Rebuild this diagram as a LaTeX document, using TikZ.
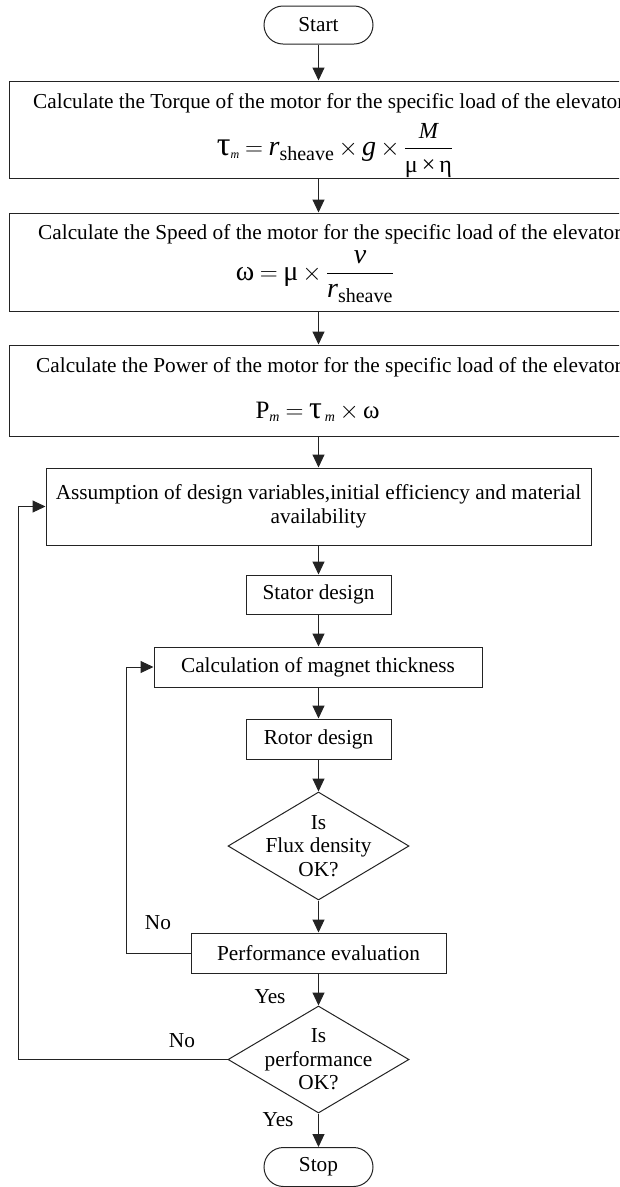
\documentclass[tikz,border=0pt]{standalone}
\usepackage{amsmath}
\usepackage{fontspec}
\setmainfont{Liberation Serif}
\usetikzlibrary{shapes.geometric,shapes.misc,arrows.meta}
\definecolor{lc}{RGB}{35,35,35}
\DeclareMathSizes{28}{28}{20}{15}
\DeclareMathSizes{25}{25}{18}{13}
\newcommand\sz[2]{\text{\fontsize{#1}{#1}\selectfont #2}}
\begin{document}
\begin{tikzpicture}[x=1pt,y=-1pt,
  txt/.style={font=\fontsize{21.3}{23.5}\selectfont, inner sep=0pt, text=black},
  fml/.style={font=\fontsize{28}{32}\selectfont, inner sep=0pt, anchor=base},
  box/.style={draw=lc, line width=1pt, rectangle, inner sep=0pt, txt, align=center},
  term/.style={draw=lc, line width=1pt, rounded rectangle, minimum width=109pt, inner sep=0pt, txt},
  dec/.style={draw=lc, line width=1pt, diamond, inner sep=0pt, minimum width=181pt},
  arr/.style={draw=lc, line width=1pt, -{Triangle[length=13pt,width=12pt]}},
  ln/.style={draw=lc, line width=1pt}]
\useasboundingbox (0,0) rectangle (619,1187);
\clip (0,0) rectangle (619,1187);
\medmuskip=3mu plus 1mu minus 1mu
\thickmuskip=4mu plus 2mu

% terminals
\node[term, minimum height=38pt] (start) at (318.5,25) {Start};
\node[term, minimum height=39pt] (stop) at (318.5,1167) {Stop};

% formula boxes
\node[box, minimum width=641pt, minimum height=97pt] (b1) at (329.5,129.5) {};
\node[txt, anchor=west] (t1) at (33,103) {Calculate the Torque of the motor for the specific load of the elevator};
\node[fml] (f1) at (335,155) {$\sz{34}{τ}_{\sz{12}{\itshape m}} = \text{\itshape r}_{\sz{20}{sheave}} \times \text{\itshape g} \times \displaystyle\frac{\sz{23}{\itshape M}}{\sz{24}{μ\,×\,η}}$};

\node[box, minimum width=641pt, minimum height=98pt] (b2) at (329.5,262) {};
\node[txt, anchor=west] (t2) at (38,234) {Calculate the Speed of the motor for the specific load of the elevator};
\node[fml] (f2) at (315,280) {$\displaystyle \text{ω} = \text{μ} \times \frac{\text{\itshape v}}{\text{\itshape r}_{\sz{20}{sheave}}}$};

\node[box, minimum width=641pt, minimum height=91pt] (b3) at (329.5,390.5) {};
\node[txt, anchor=west] (t3) at (36,367) {Calculate the Power of the motor for the specific load of the elevator};
\node[fml, font=\fontsize{25}{29}\selectfont] (f3) at (317.5,418) {$\text{P}_{\sz{14}{\itshape m}} = \sz{32}{τ}_{\,\sz{14}{\itshape m}} \times \text{ω}$};

% design boxes
\node[box, minimum width=545pt, minimum height=77pt] (b4) at (318.5,506.5) {Assumption of design variables,initial efficiency and material\\availability};
\node[box, minimum width=145pt, minimum height=39pt] (stator) at (318.5,594.5) {Stator design};
\node[box, minimum width=328pt, minimum height=40pt] (magnet) at (318,667) {Calculation of magnet thickness};
\node[box, minimum width=145pt, minimum height=40pt] (rotor) at (318.5,739) {Rotor design};
\node[dec, minimum height=108pt] (d1) at (318.5,846) {};
\node[txt, align=center] (d1t) at (d1) {Is\\Flux density\\OK?};
\node[box, minimum width=255pt, minimum height=40pt] (perf) at (318.5,953) {Performance evaluation};
\node[dec, minimum height=107pt] (d2) at (318.5,1059.5) {};
\node[txt, align=center] (d2t) at (d2) {Is\\performance\\OK?};

% main flow
\draw[arr] (start.south) -- (start.south |- b1.north);
\draw[arr] (start.south |- b1.south) -- (start.south |- b2.north);
\draw[arr] (start.south |- b2.south) -- (start.south |- b3.north);
\draw[arr] (start.south |- b3.south) -- (b4.north);
\draw[arr] (b4.south) -- (stator.north);
\draw[arr] (stator.south) -- (stator.south |- magnet.north);
\draw[arr] (stator.south |- magnet.south) -- (rotor.north);
\draw[arr] (rotor.south) -- (d1.north);
\draw[arr] (d1.south) -- (perf.north);
\draw[arr] (perf.south) -- (d2.north);
\draw[arr] (d2.south) -- (stop.north);

% loops
\coordinate (l1) at (126,953);
\coordinate (l2) at (18,1059.5);
\draw[arr] (perf.west) -- (l1) |- (magnet.west);
\draw[arr] (d2.west) -- (l2) |- (b4.west);

% labels
\node[txt] (no1) at (158,923) {No};
\node[txt] (no2) at (182,1041) {No};
\node[txt] (yes1) at (270,997) {Yes};
\node[txt] (yes2) at (278,1120) {Yes};
\end{tikzpicture}
\end{document}
